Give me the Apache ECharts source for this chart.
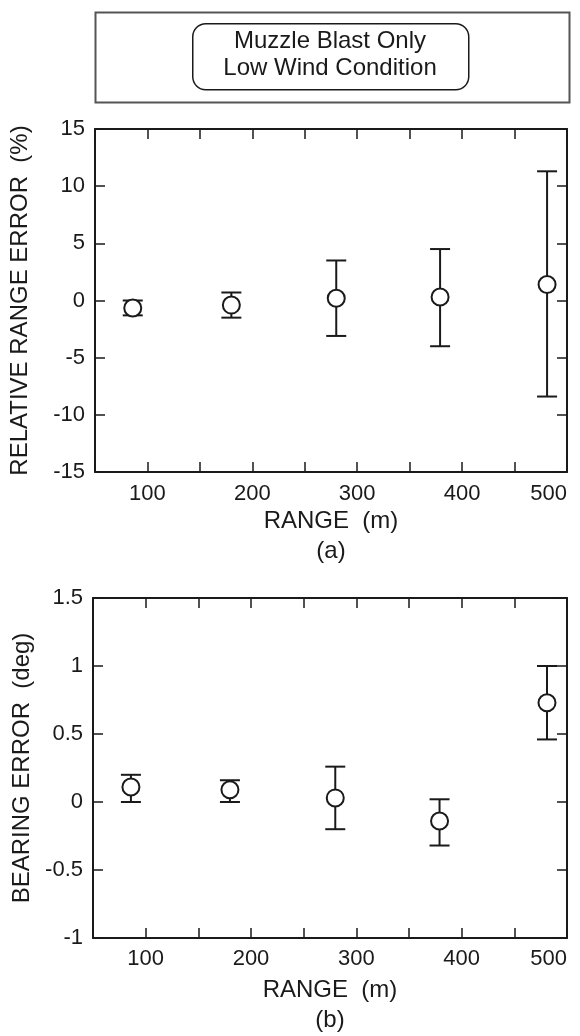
<!DOCTYPE html>
<html>
<head>
<meta charset="utf-8">
<script src="https://cdn.jsdelivr.net/npm/echarts@6/dist/echarts.min.js"></script>
<style>
html, body { margin: 0; padding: 0; background: #fff; }
#main { width: 580px; height: 1036px; }
</style>
</head>
<body>
<div id="main"></div>
<script>
var myChart = echarts.init(document.getElementById('main'));

// range of each shot group (m)
var ranges = [86, 180, 280, 379, 481];
// (a) relative range error (%)
var relMean = [-0.65, -0.4, 0.2, 0.3, 1.4];
var relLow = [-1.3, -1.5, -3.1, -4.0, -8.4];
var relHigh = [0.0, 0.7, 3.5, 4.5, 11.3];
// (b) bearing error (deg)
var bearMean = [0.11, 0.09, 0.03, -0.14, 0.73];
var bearLow = [0.0, 0.0, -0.2, -0.32, 0.46];
var bearHigh = [0.2, 0.16, 0.26, 0.02, 1.0];

var font = 'Liberation Sans, Arial, sans-serif';
var ink = '#1a1a1a';

var pts = function (ys) {
    return ranges.map(function (x, i) { return [x, ys[i]]; });
};
var bars = function (lo, hi) {
    return ranges.map(function (x, i) { return [x, lo[i], hi[i]]; });
};

var errorBar = function (params, api) {
    var x = api.value(0);
    var top = api.coord([x, api.value(2)]);
    var bot = api.coord([x, api.value(1)]);
    var w = 10;
    var st = { stroke: ink, lineWidth: 2 };
    return {
        type: 'group',
        children: [
            { type: 'line', shape: { x1: top[0], y1: top[1], x2: bot[0], y2: bot[1] }, style: st },
            { type: 'line', shape: { x1: top[0] - w, y1: top[1], x2: top[0] + w, y2: top[1] }, style: st },
            { type: 'line', shape: { x1: bot[0] - w, y1: bot[1], x2: bot[0] + w, y2: bot[1] }, style: st }
        ]
    };
};

var axLine = { onZero: false, lineStyle: { color: ink, width: 2 } };
var tick = { inside: true, length: 10, lineStyle: { color: ink, width: 1.5 } };

var xBottom = function (grid, name, gap, margin) {
    return {
        type: 'value', gridIndex: grid, position: 'bottom',
        min: 50, max: 500, interval: 50,
        name: name, nameLocation: 'middle', nameGap: gap,
        nameTextStyle: { fontFamily: font, fontSize: 24, lineHeight: 30, color: ink },
        axisLine: axLine, axisTick: tick, splitLine: { show: false },
        axisLabel: {
            fontFamily: font, fontSize: 22, color: ink, margin: margin,
            alignMaxLabel: 'right',
            formatter: function (v) { return v % 100 === 0 ? String(v) : ''; }
        }
    };
};
var xTop = function (grid) {
    return {
        type: 'value', gridIndex: grid, position: 'top',
        min: 50, max: 500, interval: 50,
        axisLine: axLine, axisTick: tick, axisLabel: { show: false }, splitLine: { show: false }
    };
};
var yLeft = function (grid, min, max, step, name, gap) {
    return {
        type: 'value', gridIndex: grid, position: 'left',
        min: min, max: max, interval: step,
        name: name, nameLocation: 'middle', nameGap: gap,
        nameTextStyle: { fontFamily: font, fontSize: 24, color: ink },
        axisLine: axLine, axisTick: tick, splitLine: { show: false },
        axisLabel: { fontFamily: font, fontSize: 22, color: ink, margin: 10 }
    };
};
var yRight = function (grid, min, max, step) {
    return {
        type: 'value', gridIndex: grid, position: 'right',
        min: min, max: max, interval: step,
        axisLine: axLine, axisTick: tick, axisLabel: { show: false }, splitLine: { show: false }
    };
};

var dot = {
    symbol: 'circle', symbolSize: 17,
    itemStyle: { color: '#fff', borderColor: ink, borderWidth: 2, opacity: 1 }
};

option = {
    backgroundColor: '#fff',
    animation: false,
    graphic: [
        {
            type: 'rect', left: 93, top: 10,
            shape: { width: 474, height: 90 },
            style: { fill: 'none', stroke: '#555', lineWidth: 2 }
        },
        {
            type: 'rect', left: 192, top: 23,
            shape: { width: 276, height: 66, r: 13 },
            style: { fill: '#fff', stroke: ink, lineWidth: 1.5 }
        },
        {
            type: 'text', x: 330, y: 55,
            style: {
                text: 'Muzzle Blast Only\nLow Wind Condition',
                font: '24px ' + font, fill: ink,
                align: 'center', verticalAlign: 'middle', lineHeight: 27
            }
        }
    ],
    grid: [
        { left: 93, right: 13, top: 129, height: 343 },
        { left: 93, right: 13, top: 598, height: 344 }
    ],
    xAxis: [
        xBottom(0, 'RANGE  (m)\n(a)', 34, 11),
        xTop(0),
        xBottom(1, 'RANGE  (m)\n(b)', 37, 10),
        xTop(1)
    ],
    yAxis: [
        yLeft(0, -15, 15, 5, 'RELATIVE RANGE ERROR  (%)', 63),
        yRight(0, -15, 15, 5),
        yLeft(1, -1, 1.5, 0.5, 'BEARING ERROR  (deg)', 53),
        yRight(1, -1, 1.5, 0.5)
    ],
    series: [
        {
            type: 'custom', xAxisIndex: 0, yAxisIndex: 0,
            renderItem: errorBar, data: bars(relLow, relHigh), z: 2
        },
        Object.assign({ type: 'scatter', xAxisIndex: 0, yAxisIndex: 0, data: pts(relMean), z: 3 }, dot),
        {
            type: 'custom', xAxisIndex: 2, yAxisIndex: 2,
            renderItem: errorBar, data: bars(bearLow, bearHigh), z: 2
        },
        Object.assign({ type: 'scatter', xAxisIndex: 2, yAxisIndex: 2, data: pts(bearMean), z: 3 }, dot)
    ]
};

myChart.setOption(option);
</script>
</body>
</html>
